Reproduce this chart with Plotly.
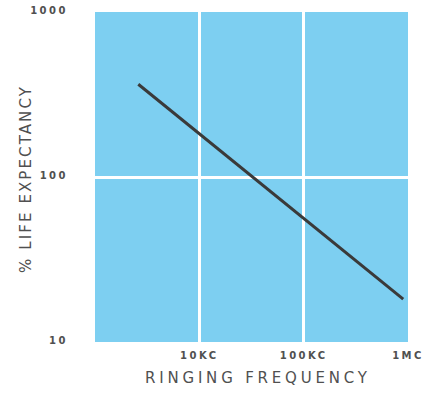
import plotly.graph_objects as go

# Data (log-log)
freq_hz = [2600, 900000]
life_pct = [365, 18.2]

x_tickvals = [1e4, 1e5, 1e6]
x_ticktext = ["10KC", "100KC", "1MC"]
y_tickvals = [10, 100, 1000]
y_ticktext = ["10", "100", "1000"]

BG = "#7dcff1"
TXT = "#505050"
FONT = "DejaVu Sans"

def spaced(s, px):
    return f'<span style="letter-spacing:{px}px">{s}</span>'

fig = go.Figure()
fig.add_trace(go.Scatter(
    x=freq_hz, y=life_pct, mode="lines",
    line=dict(color="#3a3a3a", width=3),
    showlegend=False, hoverinfo="skip",
))

fig.update_layout(
    width=437, height=395,
    margin=dict(l=95, r=29, t=12, b=53, autoexpand=False),
    paper_bgcolor="white",
    plot_bgcolor=BG,
    font=dict(family=FONT, color=TXT, size=10),
    xaxis=dict(
        type="log", range=[3, 6], automargin=False,
        tickvals=x_tickvals,
        ticktext=[spaced(t, 2.5) for t in x_ticktext],
        showgrid=True, gridcolor="white", gridwidth=2.5,
        zeroline=False, showline=False, ticks="",
        ticklabelstandoff=6,
        tickfont=dict(family=FONT, color=TXT, size=10, weight="bold"),
    ),
    yaxis=dict(
        type="log", range=[1, 3], automargin=False,
        tickvals=y_tickvals,
        ticktext=[spaced(t, 2.5) for t in y_ticktext],
        showgrid=True, gridcolor="white", gridwidth=2.5,
        zeroline=False, showline=False, ticks="",
        ticklabelstandoff=26,
        ticklabelshift=-2,
        tickfont=dict(family=FONT, color=TXT, size=10, weight="bold"),
    ),
    annotations=[
        dict(text=spaced("RINGING FREQUENCY", 3.8), xref="paper", yref="paper",
             x=0.522, y=-0.1106, xanchor="center", yanchor="middle",
             showarrow=False, font=dict(family=FONT, color=TXT, size=15)),
        dict(text=spaced("% LIFE EXPECTANCY", 2.1), xref="paper", yref="paper",
             x=-0.2204, y=0.494, xanchor="center", yanchor="middle",
             textangle=-90,
             showarrow=False, font=dict(family=FONT, color=TXT, size=15)),
    ],
)

fig.write_html("out.html")
